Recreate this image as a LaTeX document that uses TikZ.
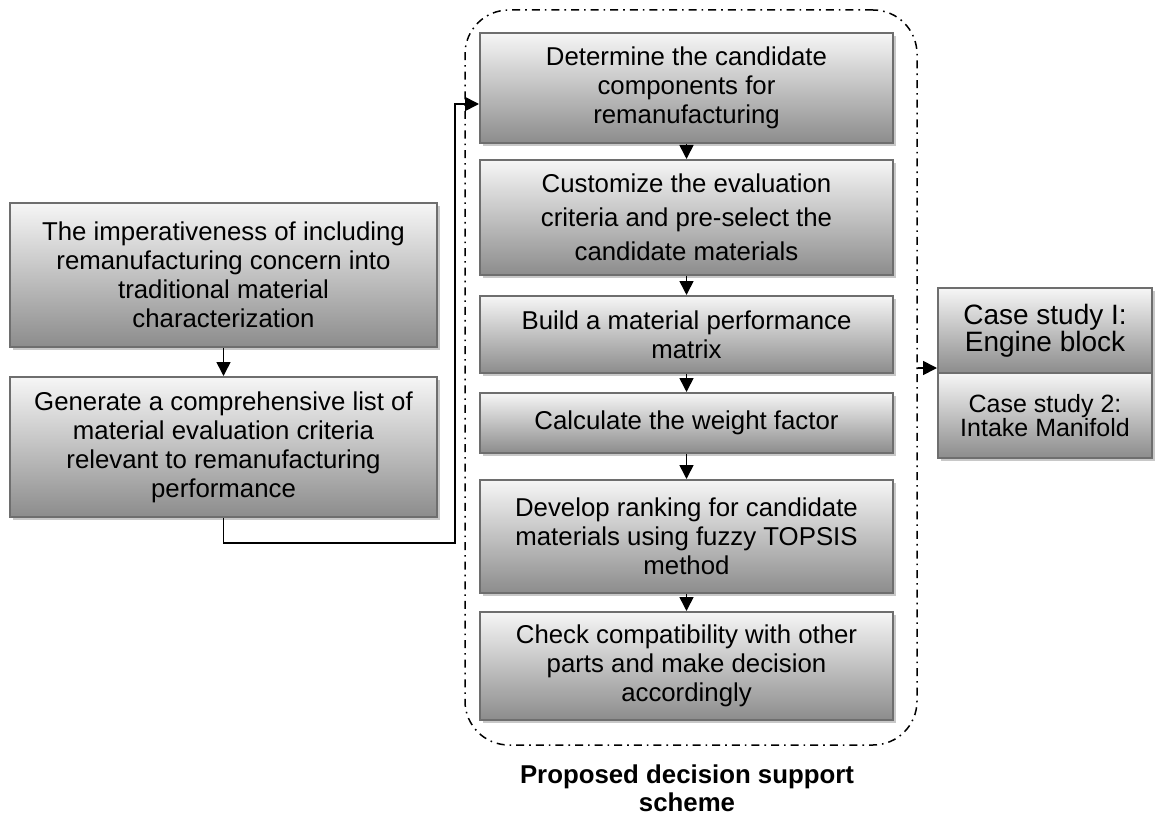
\documentclass[tikz,border=0pt]{standalone}
\usepackage{fontspec}
\setmainfont{Liberation Sans}
\usetikzlibrary{arrows.meta}
\usetikzlibrary{shadows}
\definecolor{dsgray}{RGB}{110,110,110}
\definecolor{dslight}{RGB}{246,246,246}
\definecolor{dsdark}{RGB}{140,140,140}
\definecolor{dsshadow}{RGB}{200,200,200}

\begin{document}
\begin{tikzpicture}[x=0.5pt,y=-0.5pt,
    stepbox/.style={draw=dsgray, line width=1pt, top color=dslight, bottom color=dsdark,
        align=center, inner sep=0pt, font=\fontsize{12.9}{14.5}\selectfont,
        drop shadow={shadow xshift=1.5pt, shadow yshift=-1.5pt, fill=dsshadow, opacity=1}},
    arr/.style={-{Triangle[length=7pt,width=7pt]}, line width=0.8pt}]
    \useasboundingbox (0,0) rectangle (1155,818);

    % Define the scheme frame
    \node[draw, line width=0.75pt, rounded corners=22pt,
        dash pattern=on 4pt off 2.5pt on 0.8pt off 2.5pt,
        minimum width=226pt, minimum height=367.5pt] (grp) at (691,377.5) {};
    \node[font=\bfseries\fontsize{12.9}{14}\selectfont, align=center] (cap) at (687,788)
        {Proposed decision support\\scheme};

    % Left boxes
    \node[stepbox, minimum width=213.5pt, minimum height=72pt] (imp) at (223.5,275)
        {The imperativeness of including\\remanufacturing concern into\\traditional material\\characterization};
    \node[stepbox, minimum width=213.5pt, minimum height=70pt] (gen) at (223.5,447)
        {Generate a comprehensive list of\\material evaluation criteria\\relevant to remanufacturing\\performance};

    % Middle boxes
    \node[stepbox, minimum width=206.5pt, minimum height=55pt] (det) at (686.5,88)
        {Determine the candidate\\components for\\remanufacturing};
    \node[stepbox, minimum width=206.5pt, minimum height=57.5pt,
        font=\fontsize{12.9}{17}\selectfont] (cus) at (686.5,217.5)
        {Customize the evaluation\\criteria and pre-select the\\candidate materials};
    \node[stepbox, minimum width=206.5pt, minimum height=38.5pt] (bld) at (686.5,334.5)
        {Build a material performance\\matrix};
    \node[stepbox, minimum width=206.5pt, minimum height=30pt] (wgt) at (686.5,423)
        {Calculate the weight factor};
    \node[stepbox, minimum width=206.5pt, minimum height=56.5pt] (rnk) at (686.5,536.5)
        {Develop ranking for candidate\\materials using fuzzy TOPSIS\\method};
    \node[stepbox, minimum width=206.5pt, minimum height=54pt] (chk) at (686.5,666)
        {Check compatibility with other\\parts and make decision\\accordingly};

    % Case studies
    \node[stepbox, minimum width=107pt, minimum height=42.5pt,
        font=\fontsize{14}{13.5}\selectfont] (cs1) at (1045,330.5)
        {Case study I:\\Engine block};
    \node[stepbox, minimum width=107pt, minimum height=42.5pt,
        font=\fontsize{12.5}{12}\selectfont] (cs2) at (1045,415.5)
        {Case study 2:\\Intake Manifold};

    % Connectors
    \draw[arr] (imp) -- (gen);
    \coordinate (jog) at (455,543);
    \draw[arr] (gen.south) |- (jog) |- ([yshift=-8pt]det.west);
    \draw[arr] (det) -- (cus);
    \draw[arr] (cus) -- (bld);
    \draw[arr] (bld) -- (wgt);
    \draw[arr] (wgt) -- (rnk);
    \draw[arr] (rnk) -- (chk);
    \coordinate (gout) at (grp.east |- 0,368);
    \draw[arr] (gout) -- (gout -| cs1.west);
\end{tikzpicture}
\end{document}
